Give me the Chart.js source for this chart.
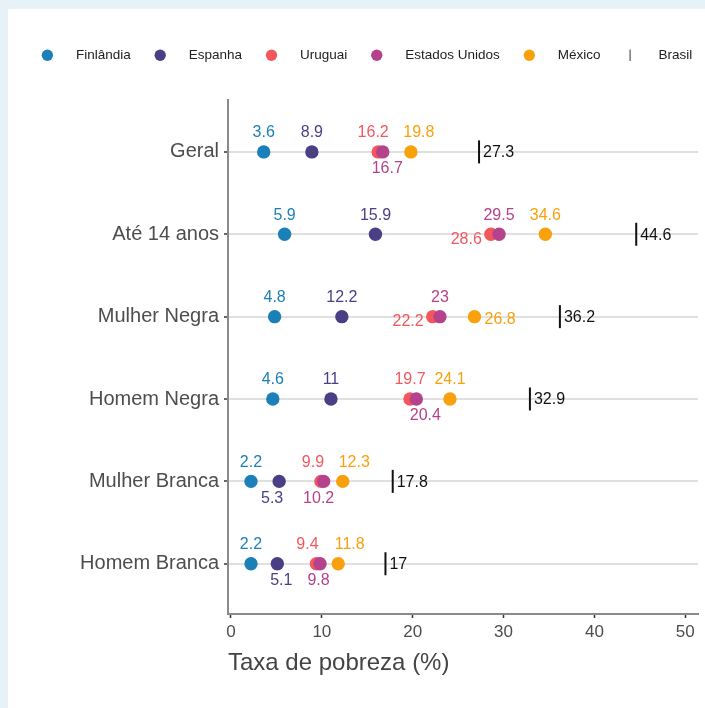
<!DOCTYPE html>
<html>
<head>
<meta charset="utf-8">
<script src="https://cdn.jsdelivr.net/npm/chart.js@4/dist/chart.umd.min.js"></script>
<style>
  html, body { margin: 0; padding: 0; background: #e6f1f8; }
  #wrap { width: 705px; height: 708px; position: relative; }
  canvas { display: block; }
</style>
</head>
<body>
<div id="wrap"><canvas id="c" width="705" height="708"></canvas></div>
<script>
// ---- data ----
const categories = ['Geral', 'Até 14 anos', 'Mulher Negra', 'Homem Negra', 'Mulher Branca', 'Homem Branca'];
const countries = ['Finlândia', 'Espanha', 'Uruguai', 'Estados Unidos', 'México', 'Brasil'];
const finlandia = [3.6, 5.9, 4.8, 4.6, 2.2, 2.2];
const espanha = [8.9, 15.9, 12.2, 11, 5.3, 5.1];
const uruguai = [16.2, 28.6, 22.2, 19.7, 9.9, 9.4];
const estadosUnidos = [16.7, 29.5, 23, 20.4, 10.2, 9.8];
const mexico = [19.8, 34.6, 26.8, 24.1, 12.3, 11.8];
const brasil = [27.3, 44.6, 36.2, 32.9, 17.8, 17];
const xTicks = [0, 10, 20, 30, 40, 50];
const xTitle = 'Taxa de pobreza (%)';

// ---- styles ----
const colors = ['#1b7fb8', '#4a3f85', '#f2575e', '#b5428c', '#f9a10d', '#111111'];
const labelPlacement = [
  ['above', 'above', 'above', 'above', 'above', 'above'],
  ['above', 'above', 'above', 'above', 'below', 'below'],
  ['above', 'left', 'left', 'above', 'above', 'above'],
  ['below', 'above', 'above', 'below', 'below', 'below'],
  ['above', 'above', 'right', 'above', 'above', 'above'],
  ['tick', 'tick', 'tick', 'tick', 'tick', 'tick']
];
// horizontal nudges (px) of the value labels, as repelled in the original
const labelNudge = [
  [0, 0, 0, 0, 0, 0],
  [0, 0, 0, 0, -7, 4],
  [-5, 0, 0, 0, -8, -9],
  [4.5, 0, 0, 9, -5, -1.5],
  [8, 0, 0, 0, 11.5, 11.5],
  [0, 0, 0, 0, 0, 0]
];
const seriesValues = [finlandia, espanha, uruguai, estadosUnidos, mexico, brasil];
const FONT = "'Liberation Sans', Arial, sans-serif";

const datasets = seriesValues.map((vals, i) => {
  const isBrasil = i === 5;
  return {
    label: countries[i],
    data: vals.map((v, j) => ({x: v, y: j})),
    backgroundColor: colors[i],
    borderColor: colors[i],
    borderWidth: isBrasil ? 2 : 0,
    pointStyle: isBrasil ? 'line' : 'circle',
    pointRotation: isBrasil ? 90 : 0,
    pointRadius: isBrasil ? 11.5 : 6.7,
    pointHoverRadius: isBrasil ? 11.5 : 6.7,
    showLine: false,
    order: -i
  };
});

const frame = {
  id: 'frame',
  beforeDraw(chart) {
    const ctx = chart.ctx;
    ctx.save();
    ctx.fillStyle = '#e6f1f8';
    ctx.fillRect(0, 0, chart.width, chart.height);
    ctx.fillStyle = '#ffffff';
    ctx.fillRect(8, 9, chart.width - 8, chart.height - 9);
    ctx.restore();
  }
};

const legendSpace = {
  id: 'legendSpace',
  beforeInit(chart) {
    const fit = chart.legend.fit;
    chart.legend.fit = function () {
      fit.bind(chart.legend)();
      this.height += 28;
    };
  }
};

const valueLabels = {
  id: 'valueLabels',
  afterDatasetsDraw(chart) {
    const ctx = chart.ctx;
    ctx.save();
    ctx.font = '16px ' + FONT;
    chart.data.datasets.forEach((ds, i) => {
      const meta = chart.getDatasetMeta(i);
      meta.data.forEach((pt, j) => {
        const txt = String(seriesValues[i][j]);
        const place = labelPlacement[i][j];
        let x = pt.x + labelNudge[i][j], y = pt.y, align = 'center';
        if (place === 'above') { y -= 19; }
        else if (place === 'below') { y += 17; }
        else if (place === 'left') { x -= 9; y += 5; align = 'right'; }
        else if (place === 'right') { x += 10; y += 3; align = 'left'; }
        else if (place === 'tick') { x += 4; y += 1; align = 'left'; }
        ctx.fillStyle = colors[i];
        ctx.textAlign = align;
        ctx.textBaseline = 'middle';
        ctx.fillText(txt, x, y);
      });
    });
    ctx.restore();
  }
};

new Chart(document.getElementById('c'), {
  type: 'scatter',
  data: { datasets },
  plugins: [frame, legendSpace, valueLabels],
  options: {
    responsive: false,
    animation: false,
    events: [],
    layout: { autoPadding: false, padding: { left: 35, right: 7, top: 44.5, bottom: 0 } },
    plugins: {
      tooltip: { enabled: false },
      legend: {
        display: true,
        position: 'top',
        align: 'center',
        labels: {
          usePointStyle: true,
          boxHeight: 8,
          boxWidth: 14,
          padding: 4,
          color: '#222222',
          font: { family: FONT, size: 13.5 },
          sort: (a, b) => a.datasetIndex - b.datasetIndex,
          generateLabels(chart) {
            const items = Chart.defaults.plugins.legend.labels.generateLabels(chart);
            items.forEach(it => {
              const last = it.datasetIndex === countries.length - 1;
              it.text = '    ' + it.text + (last ? '' : '     ');
              if (last) { it.lineWidth = 1.2; it.strokeStyle = '#555555'; }
            });
            return items;
          }
        }
      }
    },
    scales: {
      x: {
        type: 'linear',
        min: -0.33,
        max: 51.4,
        afterBuildTicks(scale) { scale.ticks = xTicks.map(v => ({value: v})); },
        afterFit(scale) { scale.height = 94; scale.paddingRight = 0; scale.paddingLeft = 0; },
        grid: { drawOnChartArea: false, drawTicks: true, tickLength: 4, tickColor: '#333333', tickWidth: 1.5 },
        border: { display: true, color: '#8a8a8a', width: 2 },
        ticks: { color: '#4d4d4d', font: { family: FONT, size: 17 }, padding: 4, maxRotation: 0, autoSkip: false },
        title: { display: true, text: xTitle, align: 'start', color: '#444444', font: { family: FONT, size: 24 }, padding: { top: 0, bottom: 30 } }
      },
      y: {
        type: 'linear',
        reverse: true,
        min: -0.63,
        max: 5.61,
        afterBuildTicks(scale) { scale.ticks = categories.map((c, i) => ({value: i})); },
        afterFit(scale) { scale.width = 193; },
        grid: { color: '#e0e0e0', lineWidth: 2, tickLength: 4, tickColor: '#333333', tickWidth: 1.5 },
        border: { display: true, color: '#8a8a8a', width: 2 },
        ticks: {
          color: '#4d4d4d',
          font: { family: FONT, size: 20 },
          padding: 5,
          autoSkip: false,
          callback: (v) => categories[v]
        }
      }
    }
  }
});
</script>
</body>
</html>
